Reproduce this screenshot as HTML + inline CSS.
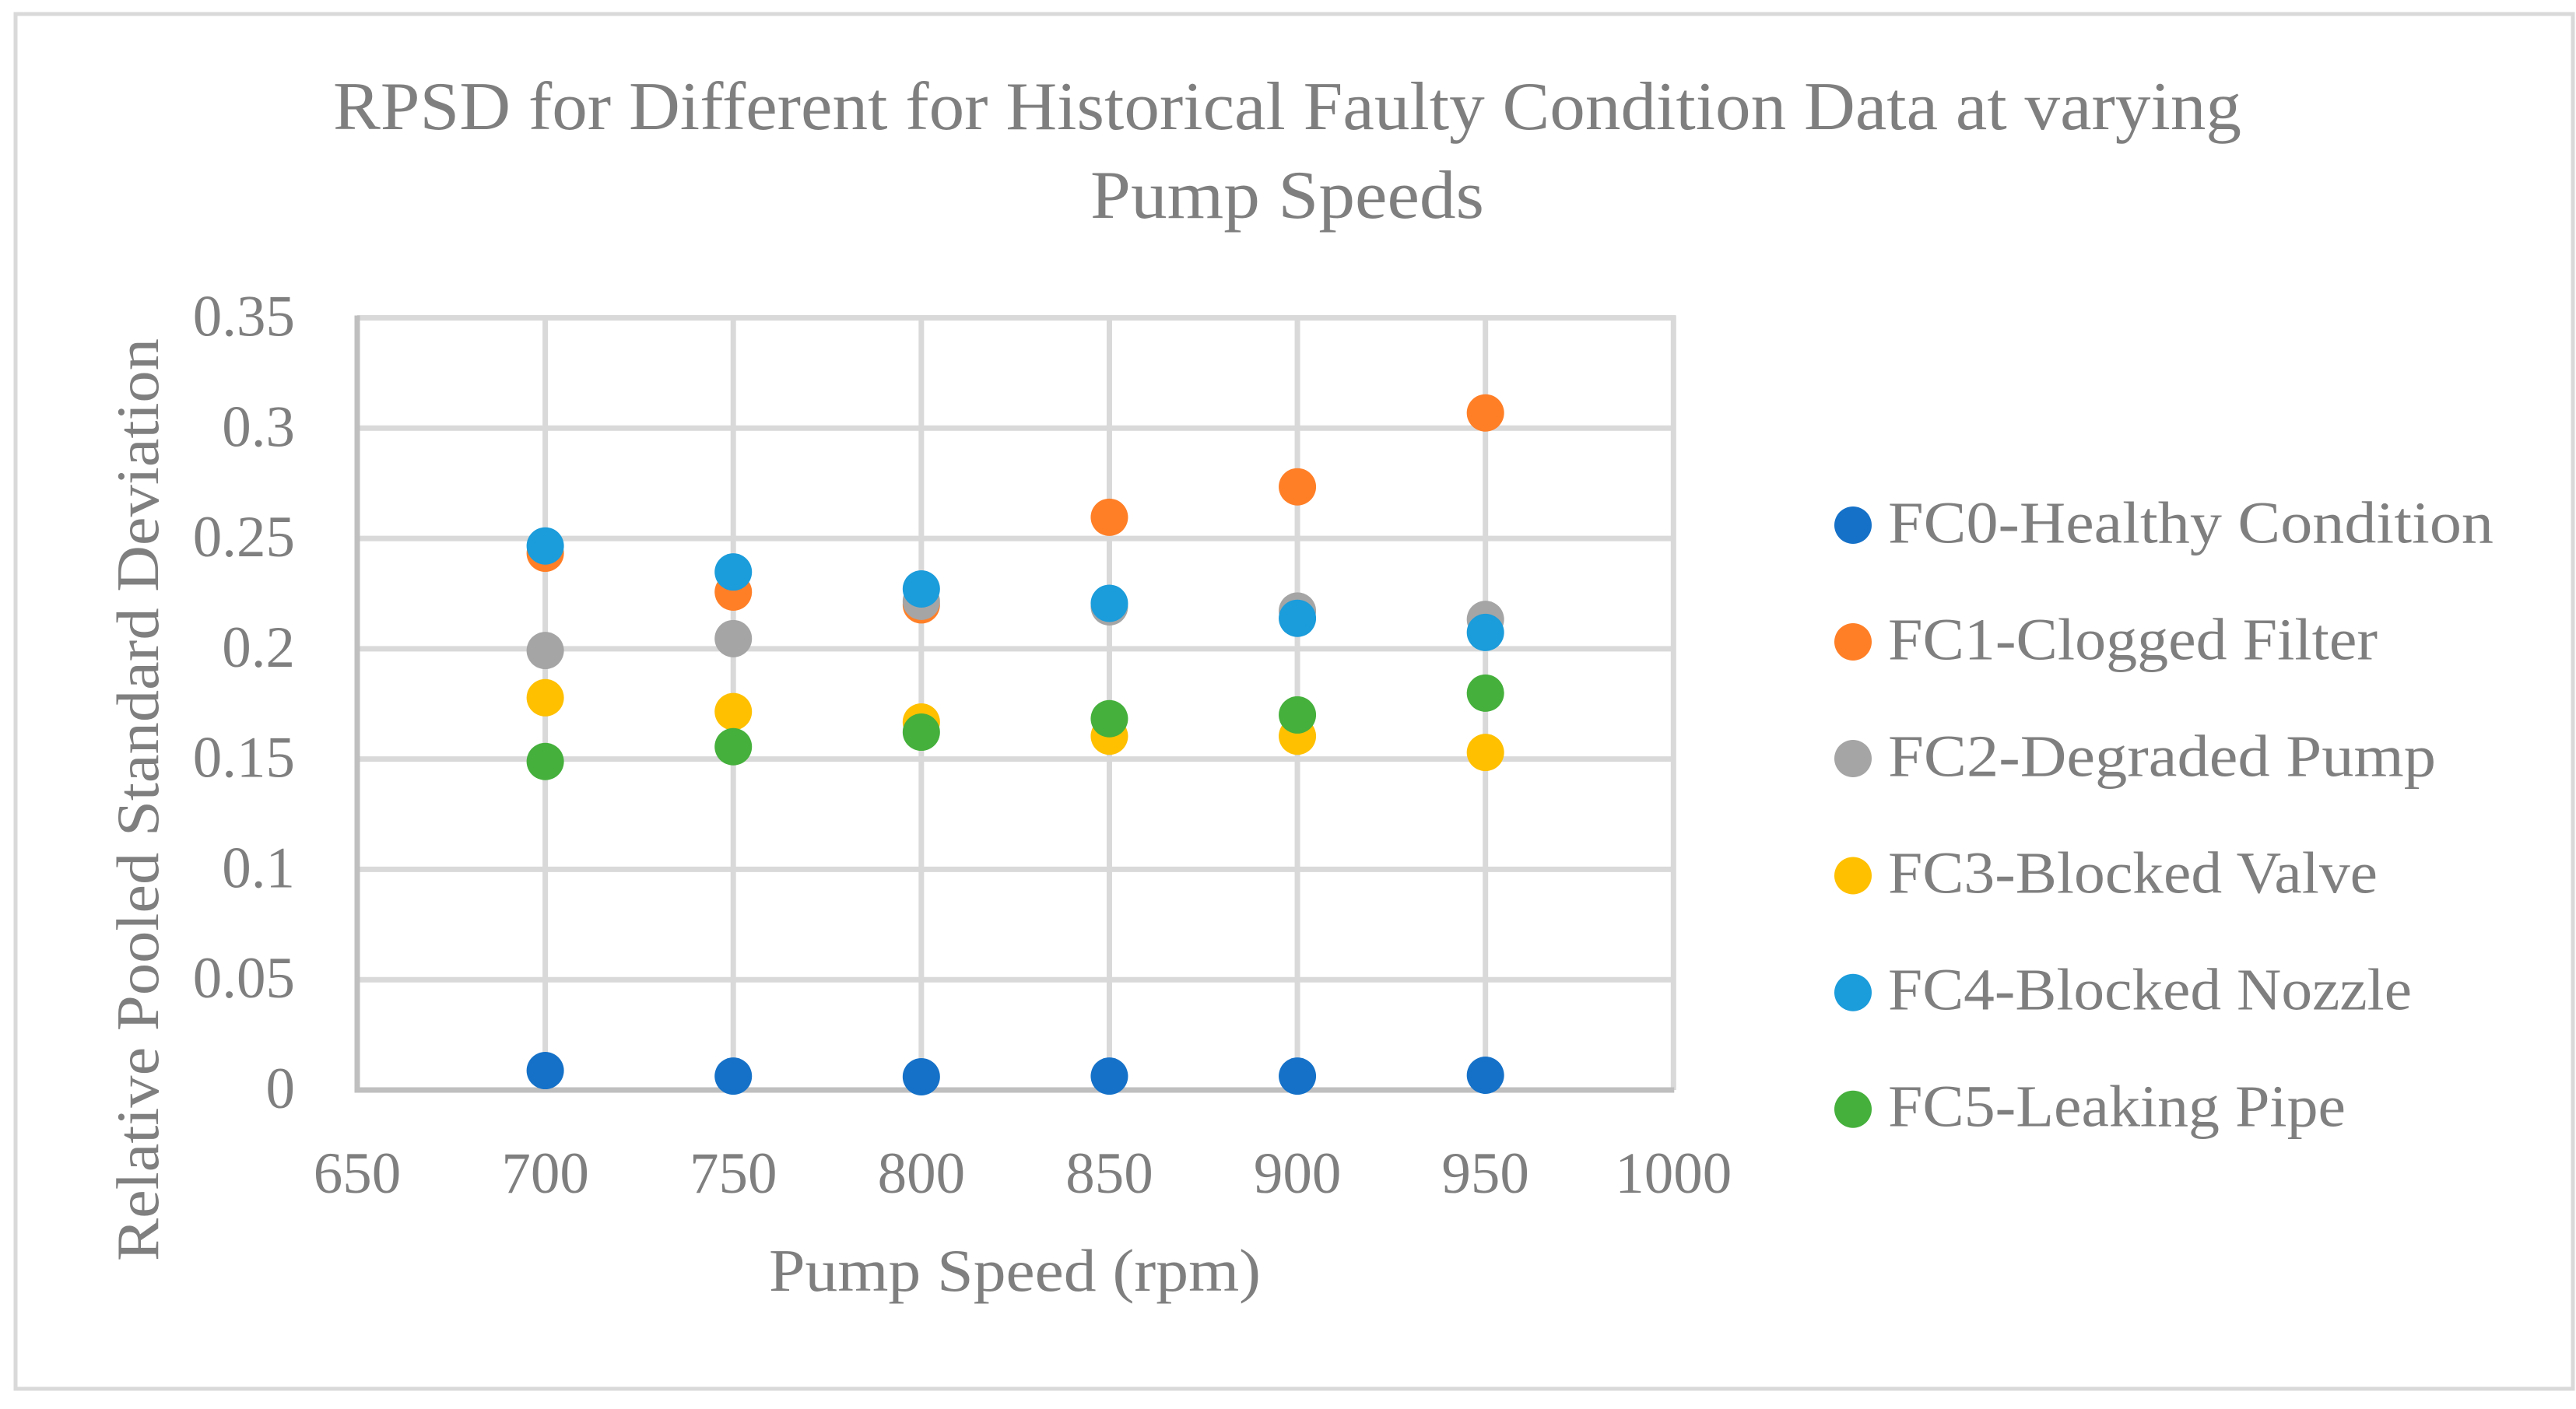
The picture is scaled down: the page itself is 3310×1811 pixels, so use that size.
<!DOCTYPE html>
<html lang="en">
<head>
<meta charset="utf-8">
<title>RPSD for Different for Historical Faulty Condition Data at varying Pump Speeds</title>
<style>
  html, body { margin: 0; padding: 0; background: #ffffff; }
  svg { display: block; }
  text { font-family: "Liberation Serif", serif; fill: #7f7f7f; }
</style>
</head>
<body>
<svg id="chart" xmlns="http://www.w3.org/2000/svg" width="3310" height="1811" viewBox="0 0 3310 1811">
  <rect x="0" y="0" width="3310" height="1811" fill="#ffffff"/>
  <rect x="20" y="18" width="3286" height="1767" fill="#ffffff" stroke="#d9d9d9" stroke-width="5"/>

  <text x="428" y="166" font-size="88" textLength="2452" lengthAdjust="spacingAndGlyphs">RPSD for Different for Historical Faulty Condition Data at varying</text>
  <text x="1401" y="280" font-size="88" textLength="506" lengthAdjust="spacingAndGlyphs">Pump Speeds</text>

  <g id="grid"></g>
  <g id="axes"></g>
  <g id="yticks"></g>
  <g id="xticks"></g>
  <g id="points"></g>

  <text transform="translate(203,1621) rotate(-90)" x="0" y="0" font-size="77" textLength="1186" lengthAdjust="spacingAndGlyphs">Relative Pooled Standard Deviation</text>
  <text x="988" y="1659" font-size="77" textLength="632" lengthAdjust="spacingAndGlyphs">Pump Speed (rpm)</text>

  <g>
    <g>
      <circle cx="2381" cy="675" r="24" fill="#1571c8"/>
      <text x="2426" y="697.3" font-size="76" textLength="778" lengthAdjust="spacingAndGlyphs">FC0-Healthy Condition</text>
    </g>
    <g>
      <circle cx="2381" cy="825" r="24" fill="#ff7f27"/>
      <text x="2426" y="847.3" font-size="76" textLength="629" lengthAdjust="spacingAndGlyphs">FC1-Clogged Filter</text>
    </g>
    <g>
      <circle cx="2381" cy="975" r="24" fill="#a5a5a5"/>
      <text x="2426" y="997.4" font-size="76" textLength="704" lengthAdjust="spacingAndGlyphs">FC2-Degraded Pump</text>
    </g>
    <g>
      <circle cx="2381" cy="1125.5" r="24" fill="#ffc000"/>
      <text x="2426" y="1147.5" font-size="76" textLength="629" lengthAdjust="spacingAndGlyphs">FC3-Blocked Valve</text>
    </g>
    <g>
      <circle cx="2381" cy="1275.7" r="24" fill="#1b9cdb"/>
      <text x="2426" y="1297.7" font-size="76" textLength="673" lengthAdjust="spacingAndGlyphs">FC4-Blocked Nozzle</text>
    </g>
    <g>
      <circle cx="2381" cy="1425.7" r="24" fill="#45b03c"/>
      <text x="2426" y="1447.7" font-size="76" textLength="588" lengthAdjust="spacingAndGlyphs">FC5-Leaking Pipe</text>
    </g>
  </g>
</svg>
<script>
const pumpSpeeds = [700, 750, 800, 850, 900, 950];
const xTickLabels = [650, 700, 750, 800, 850, 900, 950, 1000];
const yTickLabels = ["0", "0.05", "0.1", "0.15", "0.2", "0.25", "0.3", "0.35"];
const yTickValues = [0, 0.05, 0.1, 0.15, 0.2, 0.25, 0.3, 0.35];
const fc0Healthy = [0.0088, 0.0063, 0.0060, 0.0063, 0.0063, 0.0067];
const fc1Clogged = [0.2433, 0.2257, 0.2199, 0.2596, 0.2734, 0.3069];
const fc2Degraded = [0.1992, 0.2046, 0.2215, 0.2190, 0.2171, 0.2133];
const fc3Valve = [0.1778, 0.1715, 0.1668, 0.1604, 0.1604, 0.1530];
const fc4Nozzle = [0.2466, 0.2348, 0.2271, 0.2206, 0.2138, 0.2074];
const fc5Leak = [0.1489, 0.1556, 0.1622, 0.1683, 0.1700, 0.1799];

const SVG_NS = "http://www.w3.org/2000/svg";
const plotLeft = 459, plotRight = 2150.3, plotTop = 408.5, plotBottom = 1401;
const xMin = 650, xMax = 1000, yMin = 0, yMax = 0.35;

function xScale(v) {
  return plotLeft + (v - xMin) / (xMax - xMin) * (plotRight - plotLeft);
}
function yScale(v) {
  return plotBottom - (v - yMin) / (yMax - yMin) * (plotBottom - plotTop);
}
function makeLine(parent, x1, y1, x2, y2, color) {
  const el = document.createElementNS(SVG_NS, "line");
  el.setAttribute("x1", x1);
  el.setAttribute("y1", y1);
  el.setAttribute("x2", x2);
  el.setAttribute("y2", y2);
  el.setAttribute("stroke", color);
  el.setAttribute("stroke-width", 7);
  parent.appendChild(el);
  return el;
}

const gridGroup = document.getElementById("grid");
const axesGroup = document.getElementById("axes");
const yTickGroup = document.getElementById("yticks");
const xTickGroup = document.getElementById("xticks");
const pointGroup = document.getElementById("points");

yTickValues.forEach(function (v, i) {
  if (v !== yMin) {
    const g = makeLine(gridGroup, plotLeft, yScale(v), plotRight + 3, yScale(v), "#d9d9d9");
    
    
  }
  const t = document.createElementNS(SVG_NS, "text");
  
  
  t.setAttribute("x", 379);
  t.setAttribute("y", yScale(v) + 23);
  t.setAttribute("font-size", 75);
  t.setAttribute("text-anchor", "end");
  t.textContent = yTickLabels[i];
  yTickGroup.appendChild(t);
});

xTickLabels.forEach(function (v) {
  if (v !== xMin) {
    const g = makeLine(gridGroup, xScale(v), plotTop - 3, xScale(v), plotBottom, "#d9d9d9");
    
    
  }
  const t = document.createElementNS(SVG_NS, "text");
  
  
  t.setAttribute("x", xScale(v));
  t.setAttribute("y", 1533);
  t.setAttribute("font-size", 75);
  t.setAttribute("text-anchor", "middle");
  t.textContent = String(v);
  xTickGroup.appendChild(t);
});

const yAxisLine = makeLine(axesGroup, plotLeft, plotTop - 3, plotLeft, plotBottom + 3.5, "#bfbfbf");


const xAxisLine = makeLine(axesGroup, plotLeft, plotBottom, plotRight + 1, plotBottom, "#bfbfbf");



function drawSeries(values, color, pointName) {
  values.forEach(function (v, i) {
    const c = document.createElementNS(SVG_NS, "circle");
    
    
    c.setAttribute("cx", xScale(pumpSpeeds[i]));
    c.setAttribute("cy", yScale(v));
    c.setAttribute("r", 24);
    c.setAttribute("fill", color);
    pointGroup.appendChild(c);
  });
}

drawSeries(fc0Healthy, "#1571c8", "point-fc0-healthy");
drawSeries(fc1Clogged, "#ff7f27", "point-fc1-clogged-filter");
drawSeries(fc2Degraded, "#a5a5a5", "point-fc2-degraded-pump");
drawSeries(fc3Valve, "#ffc000", "point-fc3-blocked-valve");
drawSeries(fc4Nozzle, "#1b9cdb", "point-fc4-blocked-nozzle");
drawSeries(fc5Leak, "#45b03c", "point-fc5-leaking-pipe");
</script>
</body>
</html>
